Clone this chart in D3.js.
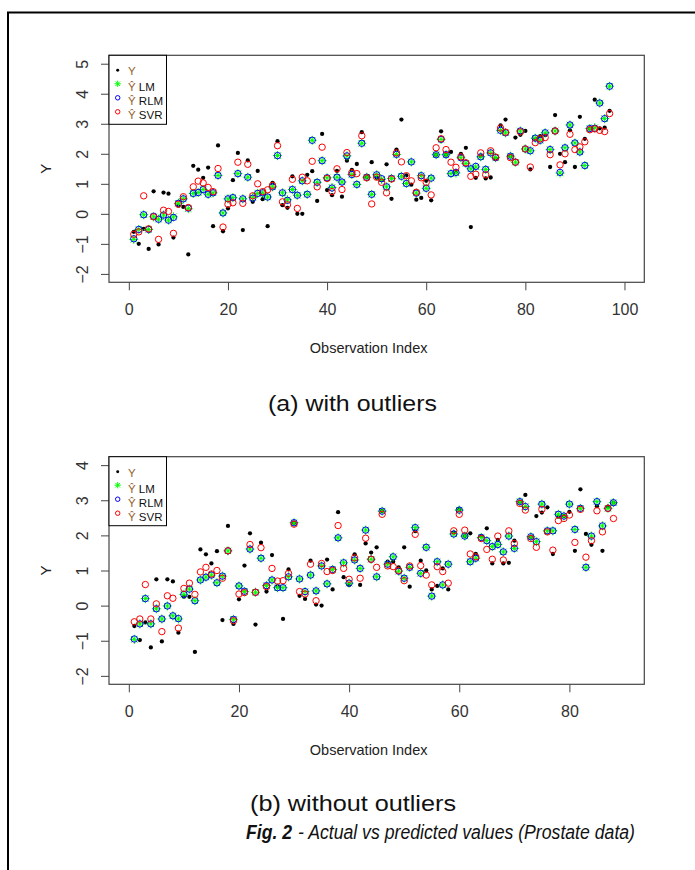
<!DOCTYPE html>
<html>
<head>
<meta charset="utf-8">
<script src="https://d3js.org/d3.v7.min.js"></script>
<style>
  body { margin: 0; background: #fff; }
  svg text { font-family: "Liberation Sans", Arial, sans-serif; }
</style>
</head>
<body>
<svg id="fig" width="695" height="870"></svg>
<script>
// ---- panel (a): with outliers, 97 observations ----
var yA = [-0.6,-1.0,-0.5,-1.17,0.75,-1.02,0.71,0.67,-0.79,0.27,
  0.23,-1.35,1.6,1.47,1.2,1.54,-0.41,2.28,-0.58,0.18,
  1.12,2.03,-0.54,1.78,0.4,1.43,0.49,-0.41,1.03,2.42,
  0.29,0.2,1.25,0.0,0.0,1.3,1.42,0.43,2.66,0.79,
  0.62,1.43,0.57,1.77,1.46,1.66,2.72,1.22,1.72,1.2,
  1.12,1.65,0.5,2.14,3.14,1.28,0.97,0.47,0.53,1.1,
  0.45,1.97,2.75,1.97,2.06,1.4,2.0,2.2,-0.44,1.2,
  1.92,1.18,1.21,1.84,2.95,3.14,1.92,2.54,2.63,2.76,
  1.48,2.5,2.59,2.62,1.56,3.29,2.0,1.72,2.78,1.56,
  3.23,2.5,2.84,3.8,2.85,2.87,3.43];
var lmA = [-0.85,-0.52,-0.03,-0.52,-0.1,-0.18,-0.04,-0.21,-0.1,0.35,
  0.5,0.17,0.68,0.71,0.81,0.65,0.7,1.28,0.03,0.5,
  0.54,1.34,0.5,1.22,0.55,0.68,0.7,0.56,0.9,1.94,
  0.7,0.47,0.81,0.62,1.1,0.65,2.45,1.05,1.77,1.2,
  0.88,1.22,1.06,1.93,1.31,0.98,2.35,1.22,0.65,1.3,
  1.15,0.9,1.18,1.98,1.25,1.01,1.73,0.69,1.27,0.85,
  1.19,1.97,2.48,1.97,1.34,1.36,1.87,1.68,1.5,1.56,
  1.9,1.48,2.03,1.87,2.78,2.7,1.92,1.72,2.76,2.16,
  2.1,2.52,2.45,2.7,2.14,2.76,1.36,2.2,2.96,2.36,
  2.06,1.61,2.84,2.87,3.69,3.17,4.25];
var rlmA = [-0.83,-0.52,-0.03,-0.52,-0.08,-0.18,-0.04,-0.21,-0.12,0.35,
  0.5,0.19,0.68,0.71,0.81,0.65,0.7,1.28,0.03,0.5,
  0.54,1.34,0.5,1.22,0.52,0.68,0.7,0.56,0.9,1.94,
  0.7,0.45,0.81,0.62,1.1,0.65,2.45,1.05,1.77,1.2,
  0.86,1.22,1.06,1.93,1.31,0.98,2.35,1.22,0.65,1.3,
  1.17,0.9,1.18,1.98,1.25,1.01,1.73,0.69,1.27,0.85,
  1.19,1.97,2.48,1.97,1.34,1.38,1.87,1.68,1.5,1.58,
  1.9,1.48,2.03,1.87,2.78,2.7,1.92,1.72,2.76,2.16,
  2.1,2.52,2.45,2.7,2.14,2.76,1.38,2.2,2.96,2.36,
  2.06,1.61,2.84,2.85,3.69,3.17,4.25];
var svrA = [-0.68,-0.6,0.6,-0.5,-0.1,-0.85,0.12,0.08,-0.65,0.32,
  0.57,0.21,0.9,1.09,1.03,0.88,0.74,1.51,-0.44,0.32,
  0.37,1.72,0.35,1.65,0.6,1.0,0.74,0.8,0.95,2.27,
  0.4,0.3,1.15,0.18,1.22,1.1,1.75,0.9,2.22,1.18,
  0.74,1.5,0.81,2.04,1.37,1.34,2.6,1.2,0.33,1.22,
  1.05,0.7,1.16,2.03,1.73,1.27,1.1,0.72,1.2,1.05,
  0.63,2.2,2.5,2.14,1.72,1.55,1.9,1.7,1.25,1.32,
  2.03,1.3,2.1,1.89,2.86,2.72,1.87,1.72,2.73,2.16,
  1.56,2.37,2.5,2.54,1.97,2.76,1.63,2.0,2.65,2.14,
  2.23,2.4,2.8,2.83,2.78,2.74,3.34];

// ---- panel (b): without outliers, 88 observations ----
var yB = [-0.58,-0.98,-0.48,-1.19,0.75,-1.02,0.75,0.69,-0.77,0.25,
  0.25,-1.32,1.6,1.46,1.2,1.55,-0.41,2.27,-0.52,0.18,
  1.14,2.06,-0.54,1.79,0.4,1.44,0.54,-0.38,1.03,2.36,
  0.28,0.19,1.28,0.03,0.0,1.31,0.46,2.66,0.81,0.59,
  1.46,0.59,1.77,1.51,1.66,2.69,1.25,1.25,1.09,1.66,
  0.54,2.12,1.28,1.0,0.46,0.56,1.06,0.46,2.08,2.74,
  1.98,2.06,1.47,1.98,2.2,1.2,1.87,1.2,1.22,1.85,
  2.96,3.15,1.96,2.55,2.65,2.8,1.47,2.53,2.55,2.67,
  1.56,3.31,2.04,1.73,2.83,1.56,2.82,2.93];
var lmB = [-0.96,-0.52,0.2,-0.52,-0.09,-0.38,-0.01,-0.29,-0.38,0.32,
  0.47,0.14,0.73,0.81,0.87,0.65,0.84,1.56,-0.39,0.56,
  0.4,1.61,0.38,1.35,0.57,0.73,0.51,0.51,0.82,2.36,
  0.76,0.4,0.87,0.42,1.13,0.62,1.03,1.93,1.22,0.64,
  1.3,1.06,2.15,1.32,0.82,2.69,1.18,1.39,0.98,0.78,
  1.09,2.22,0.92,1.66,0.27,1.25,0.59,1.18,2.04,2.72,
  1.98,1.25,1.35,1.94,1.85,1.68,1.74,1.53,1.98,1.63,
  2.96,2.82,1.96,1.82,2.89,2.13,2.13,2.6,2.55,2.89,
  2.17,2.77,1.09,1.98,2.96,2.27,2.77,2.93];
var rlmB = [-0.95,-0.52,0.2,-0.52,-0.09,-0.38,-0.01,-0.29,-0.37,0.32,
  0.47,0.14,0.73,0.81,0.87,0.65,0.84,1.56,-0.39,0.56,
  0.41,1.61,0.38,1.35,0.57,0.73,0.51,0.51,0.82,2.36,
  0.76,0.4,0.87,0.42,1.13,0.62,1.03,1.93,1.22,0.64,
  1.3,1.06,2.15,1.32,0.82,2.69,1.18,1.39,0.98,0.78,
  1.09,2.22,0.92,1.66,0.27,1.25,0.59,1.18,2.04,2.72,
  1.98,1.25,1.35,1.94,1.85,1.68,1.74,1.53,1.98,1.63,
  2.96,2.82,1.96,1.82,2.89,2.13,2.13,2.6,2.55,2.89,
  2.17,2.77,1.09,1.98,2.96,2.27,2.77,2.93];
var svrB = [-0.46,-0.38,0.6,-0.38,0.05,-0.74,0.28,0.21,-0.64,0.49,
  0.64,0.32,0.96,1.09,0.9,1.0,0.78,1.56,-0.43,0.33,
  0.37,1.74,0.38,1.65,0.54,1.06,0.7,0.71,0.92,2.32,
  0.4,0.33,1.18,0.14,1.2,0.97,1.0,2.28,1.06,0.75,
  1.36,0.78,1.92,1.32,1.09,2.6,1.13,1.11,1.0,0.71,
  1.13,2.03,1.14,0.87,0.59,1.11,0.97,0.64,2.13,2.6,
  2.15,1.47,1.39,1.91,1.6,1.32,1.98,1.3,2.13,1.77,
  2.91,2.72,1.91,1.66,2.74,2.1,1.58,2.42,2.48,2.58,
  1.8,2.74,1.38,1.85,2.7,2.1,2.77,2.48];

var xTicksA = [0, 20, 40, 60, 80, 100];
var yTicksA = [-2, -1, 0, 1, 2, 3, 4, 5];
var xTicksB = [0, 20, 40, 60, 80];
var yTicksB = [-2, -1, 0, 1, 2, 3, 4];
var legendNames = ["LM", "RLM", "SVR"];

var svg = d3.select("#fig");

// outer frame (top and left edges only)
svg.append("path")
  .attr("d", "M8,870 V12.5 H695")
  .attr("fill", "none")
  .attr("stroke", "#000")
  .attr("stroke-width", 2);

var boxCol = "#444";
var RAD = 3.2; // circle radius, pch 1

function asterisk(r) {
  var a = r * Math.SQRT2, b = r;
  return "M" + (-a) + ",0H" + a + "M0," + (-a) + "V" + a +
    "M" + (-b) + "," + (-b) + "L" + b + "," + b +
    "M" + (-b) + "," + b + "L" + b + "," + (-b);
}

function drawPanel(opt) {
  var w = 535.3, h = opt.h;
  var g = svg.append("g").attr("transform", "translate(" + opt.left + "," + opt.top + ")");

  var x = d3.scaleLinear().domain(opt.xdom).range([0, w]);
  var y = d3.scaleLinear().domain(opt.ydom).range([h, 0]);
  var fmt = d3.format("d");

  // axes (R style)
  var xa = g.append("g").attr("transform", "translate(0," + h + ")")
    .call(d3.axisBottom(x).tickValues(opt.xticks).tickFormat(fmt)
      .tickSize(8).tickSizeOuter(0).tickPadding(13.5));
  var ya = g.append("g")
    .call(d3.axisLeft(y).tickValues(opt.yticks).tickFormat(fmt)
      .tickSize(8).tickSizeOuter(0));
  [xa, ya].forEach(function (a) {
    a.select(".domain").remove();
    a.selectAll("line").attr("stroke", boxCol);
    a.selectAll("text").attr("font-size", 16).attr("fill", "#333")
      .attr("font-family", "Liberation Sans, Arial, sans-serif");
  });
  ya.selectAll("text")
    .attr("x", null).attr("dy", null)
    .attr("text-anchor", "middle")
    .attr("transform", "translate(-21.5,0) rotate(-90)");

  // points: Y, LM, RLM, SVR
  var idx = function (d, i) { return x(i + 1); };
  g.append("g").selectAll("circle").data(opt.y).join("circle")
    .attr("cx", idx).attr("cy", function (d) { return y(d); })
    .attr("r", RAD * 2 / 3).attr("fill", "#000");
  g.append("g").selectAll("path").data(opt.lm).join("path")
    .attr("transform", function (d, i) { return "translate(" + x(i + 1) + "," + y(d) + ")"; })
    .attr("d", asterisk(RAD))
    .attr("fill", "none").attr("stroke", "#00ff00").attr("stroke-width", 1);
  g.append("g").selectAll("circle").data(opt.rlm).join("circle")
    .attr("cx", idx).attr("cy", function (d) { return y(d); })
    .attr("r", RAD).attr("fill", "none").attr("stroke", "#0000ff").attr("stroke-width", 1);
  g.append("g").selectAll("circle").data(opt.svr).join("circle")
    .attr("cx", idx).attr("cy", function (d) { return y(d); })
    .attr("r", RAD).attr("fill", "none").attr("stroke", "#ff0000").attr("stroke-width", 1);

  // plot box
  g.append("rect").attr("width", w).attr("height", h)
    .attr("fill", "none").attr("stroke", boxCol).attr("stroke-width", 1.2);

  // axis titles
  g.append("text").attr("x", w / 2 - 8).attr("y", h + 70.5)
    .attr("text-anchor", "middle").attr("font-size", 14.5).attr("fill", "#222")
    .text("Observation Index");
  g.append("text")
    .attr("transform", "translate(" + (-58) + "," + (h / 2) + ") rotate(-90)")
    .attr("text-anchor", "middle").attr("font-size", 15).attr("fill", "#222")
    .text("Y");

  // legend
  var lg = g.append("g");
  lg.append("rect").attr("width", 57.5).attr("height", 69)
    .attr("fill", "#fff").attr("stroke", "#000").attr("stroke-width", 1);
  var rowY = [15, 28.5, 42.5, 56.5];
  var sx = 8.7, s = 0.7;
  lg.append("circle").attr("cx", sx).attr("cy", rowY[0]).attr("r", RAD * s * 2 / 3).attr("fill", "#000");
  lg.append("path").attr("transform", "translate(" + sx + "," + rowY[1] + ")")
    .attr("d", asterisk(RAD * s)).attr("fill", "none").attr("stroke", "#00ff00");
  lg.append("circle").attr("cx", sx).attr("cy", rowY[2]).attr("r", RAD * s)
    .attr("fill", "none").attr("stroke", "#0000ff");
  lg.append("circle").attr("cx", sx).attr("cy", rowY[3]).attr("r", RAD * s)
    .attr("fill", "none").attr("stroke", "#ff0000");

  var yCol = "#94622e";
  lg.append("text").attr("x", 19).attr("y", rowY[0] + 5)
    .attr("font-size", 11.5).attr("fill", yCol).text("Y");
  legendNames.forEach(function (n, k) {
    var t = lg.append("text").attr("x", 19).attr("y", rowY[k + 1] + 7.5)
      .attr("font-size", 11.5);
    t.append("tspan").attr("fill", yCol).text("\u0176");
    t.append("tspan").attr("fill", "#111").text(" " + n);
  });
}

drawPanel({ left: 109, top: 55.3, h: 227, xdom: [-4, 104], ydom: [-2.28, 5.28],
  xticks: xTicksA, yticks: yTicksA, y: yA, lm: lmA, rlm: rlmA, svr: svrA });
drawPanel({ left: 109, top: 456.7, h: 227.6, xdom: [-3.6, 93.6], ydom: [-2.24, 4.24],
  xticks: xTicksB, yticks: yTicksB, y: yB, lm: lmB, rlm: rlmB, svr: svrB });

// sub-captions and figure caption
svg.append("text").attr("x", 268).attr("y", 411)
  .attr("font-size", 22).attr("fill", "#111")
  .attr("textLength", 169).attr("lengthAdjust", "spacingAndGlyphs")
  .text("(a) with outliers");
svg.append("text").attr("x", 250).attr("y", 811)
  .attr("font-size", 22).attr("fill", "#111")
  .attr("textLength", 206).attr("lengthAdjust", "spacingAndGlyphs")
  .text("(b) without outliers");
svg.append("text").attr("x", 246).attr("y", 839)
  .attr("font-size", 20).attr("font-style", "italic").attr("font-weight", "bold")
  .attr("fill", "#111")
  .attr("textLength", 46).attr("lengthAdjust", "spacingAndGlyphs")
  .text("Fig. 2");
svg.append("text").attr("x", 298).attr("y", 839)
  .attr("font-size", 20).attr("font-style", "italic").attr("fill", "#111")
  .attr("textLength", 337).attr("lengthAdjust", "spacingAndGlyphs")
  .text("- Actual vs predicted values (Prostate data)");
</script>
</body>
</html>
